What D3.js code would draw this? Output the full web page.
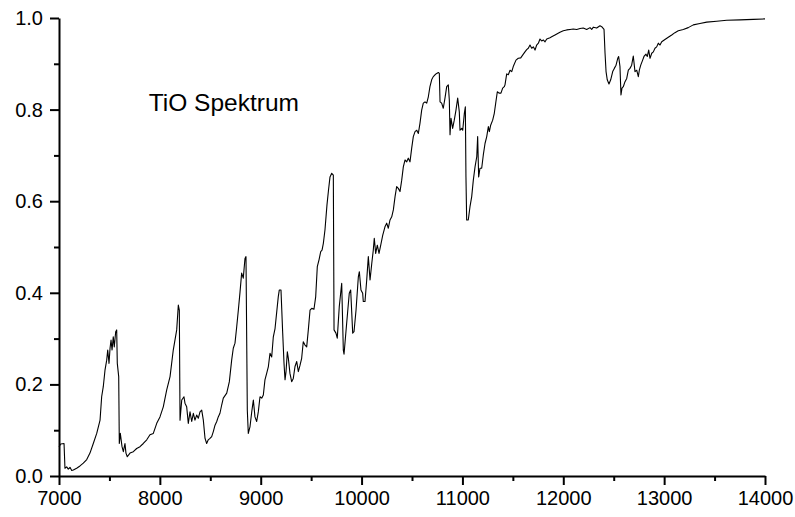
<!DOCTYPE html>
<html>
<head>
<meta charset="utf-8">
<script src="https://cdn.jsdelivr.net/npm/d3@7"></script>
<style>
  html, body { margin: 0; padding: 0; background: #fff; }
  svg text { font-family: "Liberation Sans", Arial, sans-serif; fill: #000; }
</style>
</head>
<body>
<svg id="chart" width="795" height="517"></svg>
<script>
// TiO transmission spectrum: wavelength (Å) against relative intensity
const wavelength = [
  7000,7017,7050,7059,7076,7092,7109,7126,7142,7175,7208,7241,7275,7307,7340,7374,7407,7423,7439,7456,
  7473,7483,7496,7506,7516,7526,7538,7548,7562,7572,7578,7592,7598,7608,7625,7638,7654,7664,7677,7704,
  7737,7770,7803,7836,7870,7902,7935,7969,8001,8034,8068,8101,8133,8167,8183,8193,8200,8217,8239,8249,
  8266,8282,8299,8316,8332,8348,8365,8381,8398,8415,8431,8448,8464,8480,8497,8514,8530,8547,8564,8579,
  8596,8613,8629,8663,8689,8712,8728,8745,8762,8778,8795,8811,8827,8844,8854,8867,8877,8894,8911,8927,
  8943,8960,8976,8993,9010,9026,9042,9059,9076,9092,9109,9125,9142,9159,9174,9184,9201,9218,9231,9241,
  9251,9264,9274,9290,9307,9323,9340,9357,9373,9390,9406,9422,9439,9456,9472,9489,9506,9528,9545,9561,
  9578,9595,9608,9621,9637,9657,9672,9687,9704,9720,9727,9746,9759,9779,9803,9819,9826,9852,9878,9892,
  9912,9925,9945,9968,9978,9994,10011,10017,10034,10051,10067,10084,10101,10116,10126,10140,10156,10173,10190,10210,
  10232,10249,10265,10282,10299,10315,10332,10348,10364,10381,10398,10414,10431,10448,10463,10480,10497,10513,10530,10547,
  10563,10579,10596,10612,10629,10646,10662,10678,10695,10711,10728,10745,10761,10771,10778,10794,10810,10827,10844,10860,
  10870,10877,10887,10903,10919,10936,10953,10969,10976,10993,11003,11019,11029,11035,11042,11058,11075,11092,11108,11125,
  11142,11151,11161,11174,11191,11207,11224,11241,11257,11267,11280,11300,11316,11330,11346,11363,11382,11399,11415,11422,
  11439,11455,11472,11489,11504,11531,11554,11578,11597,11620,11637,11653,11670,11687,11703,11720,11736,11753,11769,11786,
  11802,11819,11836,11868,11885,11918,11967,12000,12034,12067,12099,12133,12166,12198,12232,12265,12282,12298,12331,12364,
  12381,12404,12414,12424,12436,12453,12470,12490,12506,12523,12540,12549,12562,12572,12582,12595,12612,12629,12645,12661,
  12678,12694,12711,12728,12744,12754,12768,12787,12800,12820,12833,12847,12860,12877,12893,12909,12926,12942,12959,12976,
  13008,13041,13075,13107,13140,13190,13239,13289,13355,13422,13521,13620,13752,13884,14000
];
const intensity = [
  0.064,0.070,0.071,0.017,0.020,0.015,0.019,0.012,0.013,0.017,0.022,0.028,0.036,0.050,0.071,0.093,0.122,0.173,0.195,0.231,
  0.253,0.275,0.246,0.279,0.297,0.275,0.304,0.282,0.315,0.319,0.246,0.217,0.071,0.093,0.064,0.053,0.071,0.050,0.042,0.050,
  0.053,0.060,0.064,0.071,0.079,0.090,0.093,0.115,0.129,0.151,0.188,0.217,0.275,0.319,0.373,0.362,0.122,0.166,0.173,0.159,
  0.151,0.115,0.140,0.119,0.137,0.122,0.133,0.126,0.140,0.144,0.122,0.082,0.071,0.079,0.082,0.086,0.097,0.111,0.119,0.129,
  0.137,0.155,0.170,0.181,0.206,0.253,0.279,0.290,0.326,0.362,0.402,0.443,0.432,0.475,0.479,0.144,0.093,0.108,0.140,0.166,
  0.129,0.119,0.140,0.173,0.170,0.177,0.210,0.224,0.239,0.268,0.260,0.304,0.322,0.359,0.391,0.406,0.406,0.312,0.246,0.210,
  0.228,0.271,0.257,0.224,0.206,0.213,0.239,0.250,0.228,0.242,0.257,0.293,0.286,0.282,0.319,0.362,0.366,0.364,0.391,0.457,
  0.472,0.490,0.493,0.508,0.537,0.592,0.624,0.653,0.661,0.657,0.319,0.312,0.301,0.370,0.421,0.275,0.266,0.333,0.399,0.406,
  0.312,0.315,0.362,0.435,0.446,0.406,0.399,0.381,0.381,0.428,0.479,0.428,0.464,0.493,0.519,0.486,0.504,0.486,0.504,0.526,
  0.544,0.552,0.541,0.559,0.566,0.581,0.610,0.632,0.628,0.621,0.646,0.675,0.690,0.686,0.694,0.686,0.716,0.741,0.752,0.755,
  0.748,0.770,0.799,0.814,0.817,0.814,0.828,0.850,0.865,0.872,0.876,0.879,0.881,0.879,0.817,0.814,0.803,0.825,0.850,0.854,
  0.821,0.745,0.781,0.759,0.777,0.799,0.825,0.795,0.755,0.759,0.755,0.792,0.806,0.653,0.559,0.559,0.588,0.610,0.646,0.675,
  0.697,0.741,0.653,0.672,0.672,0.701,0.726,0.741,0.763,0.752,0.766,0.777,0.792,0.814,0.839,0.836,0.836,0.847,0.850,0.854,
  0.878,0.876,0.886,0.883,0.894,0.908,0.912,0.913,0.919,0.926,0.931,0.934,0.941,0.934,0.937,0.930,0.941,0.945,0.954,0.950,
  0.952,0.948,0.954,0.957,0.959,0.963,0.969,0.972,0.974,0.975,0.976,0.975,0.977,0.978,0.975,0.979,0.975,0.980,0.978,0.983,
  0.981,0.975,0.923,0.883,0.865,0.856,0.865,0.883,0.890,0.897,0.912,0.916,0.894,0.832,0.847,0.850,0.861,0.868,0.886,0.890,
  0.897,0.917,0.883,0.886,0.872,0.886,0.897,0.908,0.916,0.921,0.916,0.930,0.912,0.923,0.926,0.934,0.937,0.945,0.941,0.948,
  0.953,0.958,0.963,0.968,0.972,0.975,0.979,0.985,0.988,0.991,0.993,0.995,0.996,0.997,0.998
];

const xMajorTicks = [7000, 8000, 9000, 10000, 11000, 12000, 13000, 14000];
const xMinorTicks = [7500, 8500, 9500, 10500, 11500, 12500, 13500];
const yMajorTicks = [0.0, 0.2, 0.4, 0.6, 0.8, 1.0];
const yMinorTicks = [0.1, 0.3, 0.5, 0.7, 0.9];
const chartTitle = "TiO Spektrum";

const svg = d3.select("#chart");
const margin = { left: 59, right: 30, top: 18, bottom: 41 };
const W = 795, H = 517;

const x = d3.scaleLinear().domain([7000, 14000]).range([margin.left, W - margin.right]);
const y = d3.scaleLinear().domain([0, 1]).range([H - margin.bottom, margin.top]);

const fontSize = 20;

// minor ticks (unlabelled)
svg.append("g")
  .attr("transform", `translate(0,${y(0)})`)
  .call(d3.axisBottom(x).tickValues(xMinorTicks).tickSize(5).tickFormat(""))
  .call(g => g.select(".domain").remove())
  .call(g => g.selectAll("line").attr("stroke", "#000").attr("stroke-width", 2));
svg.append("g")
  .attr("transform", `translate(${x(7000)},0)`)
  .call(d3.axisLeft(y).tickValues(yMinorTicks).tickSize(5).tickFormat(""))
  .call(g => g.select(".domain").remove())
  .call(g => g.selectAll("line").attr("stroke", "#000").attr("stroke-width", 2));

// major ticks with labels
const xAxis = svg.append("g")
  .attr("transform", `translate(0,${y(0)})`)
  .call(d3.axisBottom(x).tickValues(xMajorTicks).tickSize(9).tickSizeOuter(0).tickPadding(6)
        .tickFormat(d3.format("d")));
xAxis.select(".domain").attr("stroke", "#000").attr("stroke-width", 2);
xAxis.selectAll("line").attr("stroke", "#000").attr("stroke-width", 2);
xAxis.selectAll("text").attr("font-size", fontSize).attr("font-family", "Liberation Sans, Arial, sans-serif")
  .attr("fill", "#000");

const yAxis = svg.append("g")
  .attr("transform", `translate(${x(7000)},0)`)
  .call(d3.axisLeft(y).tickValues(yMajorTicks).tickSize(9).tickSizeOuter(0).tickPadding(7)
        .tickFormat(d3.format(".1f")));
yAxis.select(".domain").attr("stroke", "#000").attr("stroke-width", 2);
yAxis.selectAll("line").attr("stroke", "#000").attr("stroke-width", 2);
yAxis.selectAll("text").attr("font-size", fontSize).attr("font-family", "Liberation Sans, Arial, sans-serif")
  .attr("fill", "#000");

// spectrum line
const points = wavelength.map((w, i) => [w, intensity[i]]);
const line = d3.line().x(d => x(d[0])).y(d => y(d[1]));
svg.append("path")
  .datum(points)
  .attr("d", line)
  .attr("fill", "none")
  .attr("stroke", "#000")
  .attr("stroke-width", 1.1)
  .attr("stroke-linejoin", "round");

// label inside the plot
svg.append("text")
  .attr("x", x(7890))
  .attr("y", y(0.798))
  .attr("font-size", 24.5)
  .text(chartTitle);
</script>
</body>
</html>
